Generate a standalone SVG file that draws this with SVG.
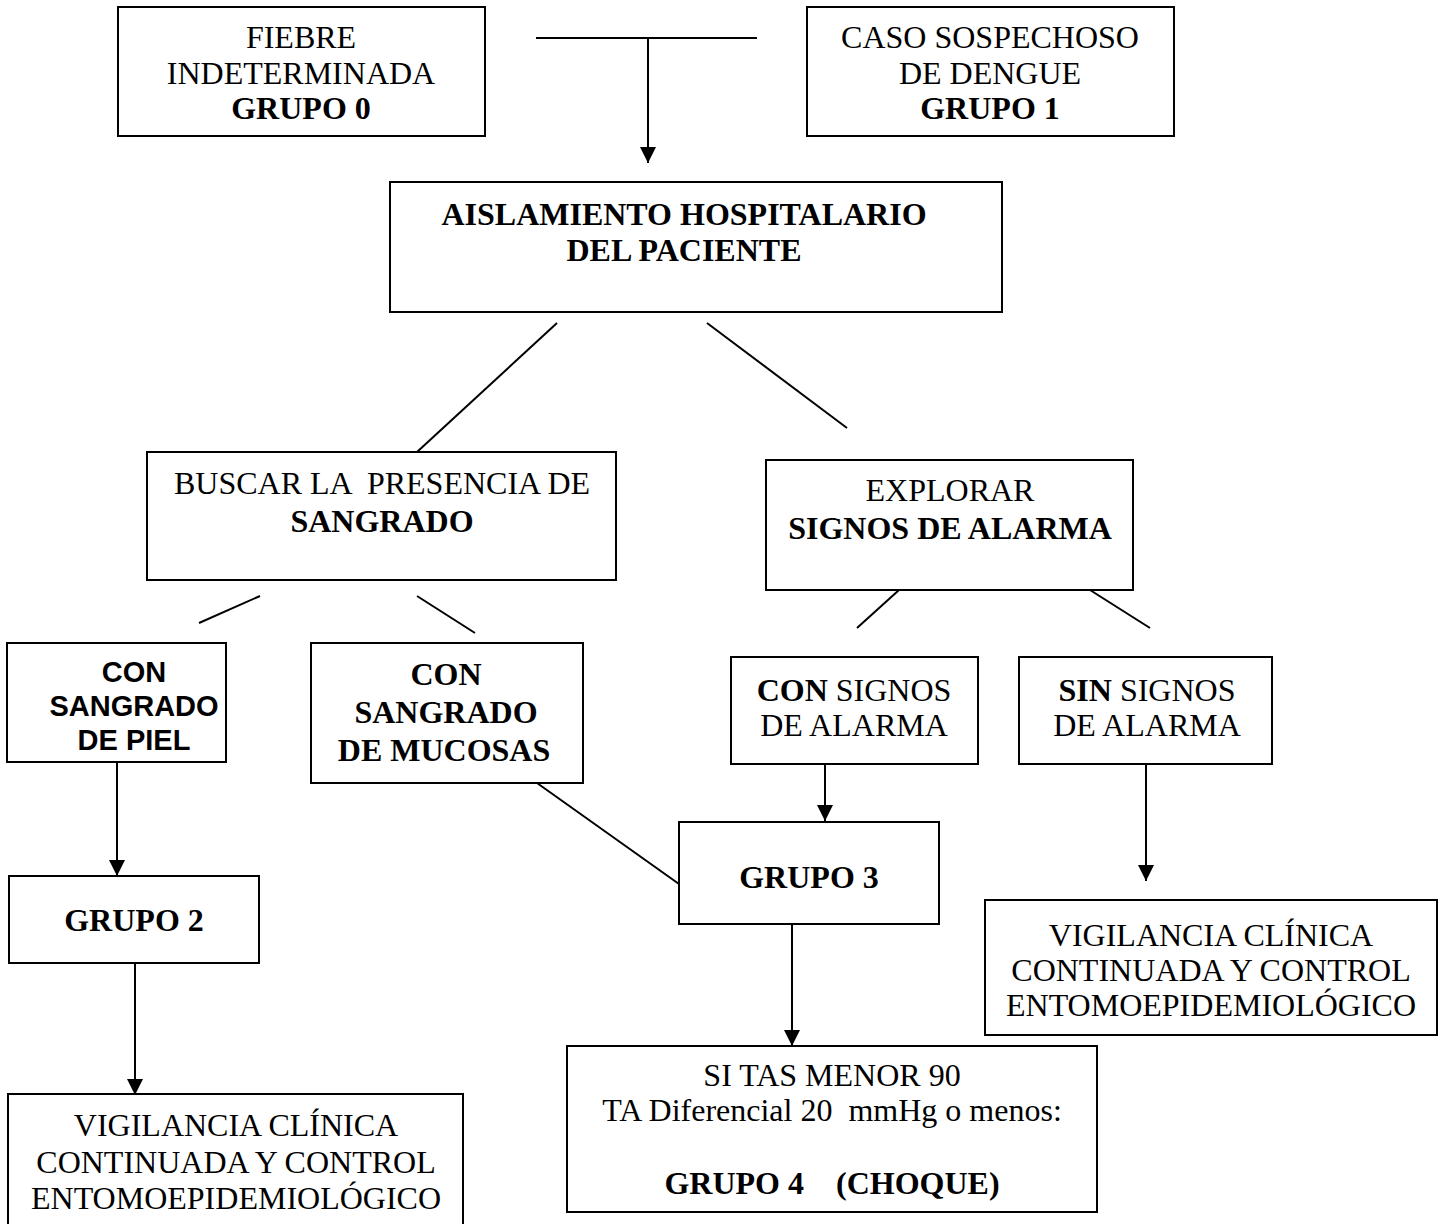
<svg xmlns="http://www.w3.org/2000/svg" width="1445" height="1224" viewBox="0 0 1445 1224">
<defs>
<style>
.box{fill:#fff;stroke:#000;stroke-width:2}
.t{font-family:"Liberation Serif","Times New Roman",serif;font-size:32px;fill:#000;text-anchor:middle}
.b{font-weight:bold}
.a{font-family:"Liberation Sans",Arial,sans-serif;font-size:29px;font-weight:bold;fill:#000;text-anchor:middle}
.ln{stroke:#000;stroke-width:2;fill:none}
</style>
<marker id="arr" markerUnits="userSpaceOnUse" markerWidth="16" markerHeight="20" refX="16" refY="8" orient="auto" viewBox="0 0 16 16">
<path d="M0,0 L16,8 L0,16 Z" fill="#000"/>
</marker>
</defs>
<rect width="1445" height="1224" fill="#fff"/>
<g id="connectors">
<line class="ln" x1="536" y1="38" x2="757" y2="38"/>
<line class="ln" x1="648" y1="38" x2="648" y2="163" marker-end="url(#arr)"/>
<line class="ln" x1="557" y1="323" x2="417" y2="452"/>
<line class="ln" x1="707" y1="323" x2="847" y2="428"/>
<line class="ln" x1="260" y1="596" x2="199" y2="623"/>
<line class="ln" x1="417" y1="596" x2="475" y2="633"/>
<line class="ln" x1="899" y1="590" x2="857" y2="628"/>
<line class="ln" x1="1090" y1="590" x2="1150" y2="628"/>
<line class="ln" x1="117" y1="762" x2="117" y2="876" marker-end="url(#arr)"/>
<line class="ln" x1="825" y1="757" x2="825" y2="821" marker-end="url(#arr)"/>
<line class="ln" x1="537" y1="783" x2="679" y2="884"/>
<line class="ln" x1="1146" y1="757" x2="1146" y2="881" marker-end="url(#arr)"/>
<line class="ln" x1="792" y1="924" x2="792" y2="1046" marker-end="url(#arr)"/>
<line class="ln" x1="135" y1="963" x2="135" y2="1095" marker-end="url(#arr)"/>
</g>
<g id="fiebre">
<rect class="box" x="118" y="7" width="367" height="129"/>
<text class="t" x="301" y="48">FIEBRE</text>
<text class="t" x="301" y="84">INDETERMINADA</text>
<text class="t b" x="301" y="119">GRUPO 0</text>
</g>
<g id="caso">
<rect class="box" x="807" y="7" width="367" height="129"/>
<text class="t" x="990" y="48">CASO SOSPECHOSO</text>
<text class="t" x="990" y="84">DE DENGUE</text>
<text class="t b" x="990" y="119">GRUPO 1</text>
</g>
<g id="aislamiento">
<rect class="box" x="390" y="182" width="612" height="130"/>
<text class="t b" x="684" y="225">AISLAMIENTO HOSPITALARIO</text>
<text class="t b" x="684" y="261">DEL PACIENTE</text>
</g>
<g id="buscar">
<rect class="box" x="147" y="452" width="469" height="128"/>
<text class="t" x="382" y="494" xml:space="preserve">BUSCAR LA  PRESENCIA DE</text>
<text class="t b" x="382" y="532">SANGRADO</text>
</g>
<g id="explorar">
<rect class="box" x="766" y="460" width="367" height="130"/>
<text class="t" x="950" y="501">EXPLORAR</text>
<text class="t b" x="950" y="539">SIGNOS DE ALARMA</text>
</g>
<g id="piel">
<rect class="box" x="7" y="643" width="219" height="119"/>
<text class="a" x="134" y="682">CON</text>
<text class="a" x="134" y="716">SANGRADO</text>
<text class="a" x="134" y="750">DE PIEL</text>
</g>
<g id="mucosas">
<rect class="box" x="311" y="643" width="272" height="140"/>
<text class="t b" x="446" y="685">CON</text>
<text class="t b" x="446" y="723">SANGRADO</text>
<text class="t b" x="444" y="761">DE MUCOSAS</text>
</g>
<g id="con-signos">
<rect class="box" x="731" y="657" width="247" height="107"/>
<text class="t" x="854" y="701"><tspan class="b">CON</tspan> SIGNOS</text>
<text class="t" x="854" y="736">DE ALARMA</text>
</g>
<g id="sin-signos">
<rect class="box" x="1019" y="657" width="253" height="107"/>
<text class="t" x="1147" y="701"><tspan class="b">SIN</tspan> SIGNOS</text>
<text class="t" x="1147" y="736">DE ALARMA</text>
</g>
<g id="grupo2">
<rect class="box" x="9" y="876" width="250" height="87"/>
<text class="t b" x="134" y="931">GRUPO 2</text>
</g>
<g id="grupo3">
<rect class="box" x="679" y="822" width="260" height="102"/>
<text class="t b" x="809" y="888">GRUPO 3</text>
</g>
<g id="vigilancia-der">
<rect class="box" x="985" y="900" width="452" height="135"/>
<text class="t" x="1211" y="946">VIGILANCIA CLÍNICA</text>
<text class="t" x="1211" y="981">CONTINUADA Y CONTROL</text>
<text class="t" x="1211" y="1016">ENTOMOEPIDEMIOLÓGICO</text>
</g>
<g id="grupo4">
<rect class="box" x="567" y="1046" width="530" height="166"/>
<text class="t" x="832" y="1086">SI TAS MENOR 90</text>
<text class="t" x="832" y="1121" xml:space="preserve">TA Diferencial 20  mmHg o menos:</text>
<text class="t b" x="832" y="1194" xml:space="preserve">GRUPO 4    (CHOQUE)</text>
</g>
<g id="vigilancia-izq">
<rect class="box" x="8" y="1094" width="455" height="140"/>
<text class="t" x="236" y="1136">VIGILANCIA CLÍNICA</text>
<text class="t" x="236" y="1173">CONTINUADA Y CONTROL</text>
<text class="t" x="236" y="1209">ENTOMOEPIDEMIOLÓGICO</text>
</g>
</svg>
